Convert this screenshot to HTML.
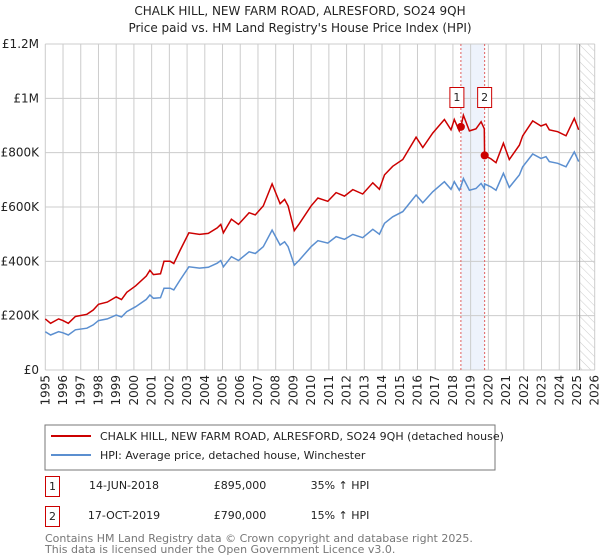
<!DOCTYPE html>
<html><head><meta charset="utf-8"><style>
body{margin:0;background:#fff;}
svg{display:block;font-family:"DejaVu Sans","Liberation Sans",sans-serif;}
</style></head><body>
<svg id="c" width="600" height="560" viewBox="0 0 600 560">
<defs><pattern id="hatch" width="6" height="6" patternUnits="userSpaceOnUse" patternTransform="rotate(-45)"><line x1="0" y1="0" x2="0" y2="6" stroke="#ccc" stroke-width="1"/></pattern></defs>
<text x="300" y="15" text-anchor="middle" font-size="12" fill="#222">CHALK HILL, NEW FARM ROAD, ALRESFORD, SO24 9QH</text>
<text x="300" y="32" text-anchor="middle" font-size="12" fill="#222">Price paid vs. HM Land Registry's House Price Index (HPI)</text>
<g id="grid"></g><g id="marks"></g>
<rect x="45" y="425" width="450" height="45" fill="#fff" stroke="#777"/>
<line x1="51" y1="436" x2="91" y2="436" stroke="#cc0000" stroke-width="2"/>
<text x="100" y="440" font-size="11" fill="#222">CHALK HILL, NEW FARM ROAD, ALRESFORD, SO24 9QH (detached house)</text>
<line x1="51" y1="455" x2="91" y2="455" stroke="#5b8fd0" stroke-width="2"/>
<text x="100" y="459" font-size="11" fill="#222">HPI: Average price, detached house, Winchester</text>
<g font-size="11" fill="#222">
<rect x="45.5" y="476.5" width="14" height="20" fill="#fff" stroke="#cc0000"/>
<text x="52.5" y="490" text-anchor="middle">1</text>
<text x="124" y="489" text-anchor="middle">14-JUN-2018</text>
<text x="240" y="489" text-anchor="middle">£895,000</text>
<text x="340" y="489" text-anchor="middle">35% ↑ HPI</text></g>
<g font-size="11" fill="#222">
<rect x="45.5" y="506.5" width="14" height="20" fill="#fff" stroke="#cc0000"/>
<text x="52.5" y="520" text-anchor="middle">2</text>
<text x="124" y="519" text-anchor="middle">17-OCT-2019</text>
<text x="240" y="519" text-anchor="middle">£790,000</text>
<text x="340" y="519" text-anchor="middle">15% ↑ HPI</text></g>
<text x="45" y="542" font-size="11" fill="#777">Contains HM Land Registry data © Crown copyright and database right 2025.</text>
<text x="45" y="553" font-size="11" fill="#777">This data is licensed under the Open Government Licence v3.0.</text>
</svg>
<script>
const hpiYears=[1995.0,1995.3,1995.75,1996.0,1996.3,1996.7,1997.35,1997.7,1998.0,1998.5,1999.0,1999.3,1999.6,2000.1,2000.7,2000.9,2001.1,2001.5,2001.7,2002.05,2002.25,2002.6,2003.1,2003.7,2004.2,2004.7,2004.9,2005.05,2005.5,2005.9,2006.5,2006.85,2007.3,2007.8,2008.25,2008.5,2008.7,2009.05,2009.34,2010.0,2010.38,2010.94,2011.41,2011.88,2012.35,2012.91,2013.48,2013.85,2014.14,2014.6,2015.17,2015.92,2016.3,2016.86,2017.52,2017.89,2018.08,2018.36,2018.45,2018.59,2018.93,2019.3,2019.59,2019.77,2019.79,2020.15,2020.43,2020.85,2021.18,2021.75,2021.94,2022.5,2022.97,2023.25,2023.44,2023.91,2024.38,2024.85,2025.1];
const hpiValues=[141,129,141,137,129,148,154,166,182,188,202,195,215,233,260,276,264,266,301,301,295,331,380,375,378,393,403,380,417,403,435,429,454,515,460,472,454,386,405,454,476,467,491,481,499,487,518,500,540,564,583,644,616,656,693,665,693,662,675,705,662,668,687,668,685,674,662,724,672,718,748,795,779,785,767,761,748,803,767];
const priceValues=[188,172,188,182,172,197,205,221,242,250,269,259,286,310,346,367,351,354,400,400,392,440,505,499,503,523,536,505,555,536,579,571,604,685,612,628,604,513,539,604,633,621,653,640,664,648,689,665,718,750,775,857,819,872,922,884,922,880,895,938,880,888,914,888,790,777,763,835,775,828,862,917,898,905,884,877,862,926,884];
const saleYears=[2018.45,2019.79];
const salePrices=[895,790];
const saleLabels=["1","2"];
const yTicks=[0,200,400,600,800,1000,1200];
const yTickLabels=["£0","£200K","£400K","£600K","£800K","£1M","£1.2M"];
const xTickYears=[];for(let y=1995;y<=2026;y++)xTickYears.push(y);
const X0=45.3,X1=594.7,Y0=370,Y1=44;
const xs=y=>X0+(y-1995)/(2026-1995)*(X1-X0);
const ys=v=>Y0-v/1200*(Y0-Y1);
const NS="http://www.w3.org/2000/svg";
const grid=document.getElementById('grid'),marks=document.getElementById('marks');
function mk(p,tag,at){const e=document.createElementNS(NS,tag);for(const k in at)e.setAttribute(k,at[k]);p.appendChild(e);return e;}
// shaded band between sales
let band=mk(grid,'rect',{x:xs(saleYears[0]),y:Y1,width:xs(saleYears[1])-xs(saleYears[0]),height:Y0-Y1,fill:'#eef3fc'});


xTickYears.forEach(y=>{
 let l=mk(grid,'line',{x1:xs(y),x2:xs(y),y1:Y1,y2:Y0,stroke:'#ccc','stroke-width':1});
 
 
 let t=mk(grid,'text',{x:0,y:0,'font-size':12,fill:'#222','text-anchor':'end',transform:`translate(${xs(y)+4},${Y0+5}) rotate(-90)`});
 t.textContent=y;
 
 
});
yTicks.forEach((v,i)=>{
 let l=mk(grid,'line',{x1:X0,x2:X1,y1:ys(v),y2:ys(v),stroke:'#ccc','stroke-width':1});
 
 
 let t=mk(grid,'text',{x:39,y:ys(v)+4,'font-size':12,fill:'#222','text-anchor':'end'});
 t.textContent=yTickLabels[i];
 
 
});
// future hatched region
const hx=xs(2025.15);
let h=mk(grid,'rect',{x:hx,y:Y1,width:X1-hx,height:Y0-Y1,fill:'url(#hatch)'});


let hl=mk(grid,'line',{x1:hx,x2:hx,y1:Y1,y2:Y0,stroke:'#999','stroke-width':1});


saleYears.forEach(y=>{
 let d=mk(marks,'line',{x1:xs(y),x2:xs(y),y1:Y1,y2:Y0,stroke:'#e06060','stroke-width':1,'stroke-dasharray':'2,2'});
 
 
});
const pth=vals=>hpiYears.map((y,i)=>(i?'L':'M')+xs(y).toFixed(1)+','+ys(vals[i]).toFixed(1)).join('');
let b=mk(marks,'path',{d:pth(hpiValues),fill:'none',stroke:'#5b8fd0','stroke-width':1.5});


let r=mk(marks,'path',{d:pth(priceValues),fill:'none',stroke:'#cc0000','stroke-width':1.5});


saleYears.forEach((y,i)=>{
 let c=mk(marks,'circle',{cx:xs(y),cy:ys(salePrices[i]),r:4,fill:'#cc0000'});
 
 
 let g=mk(marks,'g',{});
 
 
 const bx=xs(y)+(i===0?-11:-7);
 mk(g,'rect',{x:bx,y:87.5,width:14,height:20,fill:'#fff',stroke:'#cc0000'});
 let t=mk(g,'text',{x:bx+7,y:101,'font-size':11,fill:'#222','text-anchor':'middle'});
 t.textContent=saleLabels[i];
});
</script>
</body></html>
